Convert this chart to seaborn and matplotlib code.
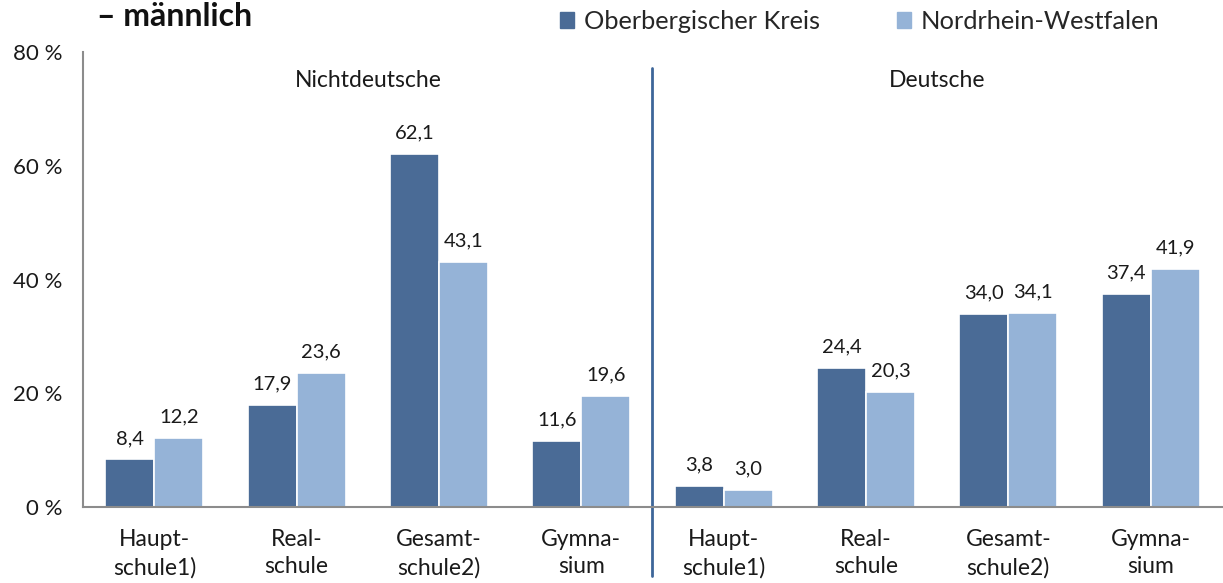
import matplotlib.pyplot as plt
import seaborn as sns
import pandas as pd
from matplotlib.patches import Patch

# --- data ---
groups = ["Nichtdeutsche"] * 4 + ["Deutsche"] * 4
schools = ["Haupt-\nschule1)", "Real-\nschule", "Gesamt-\nschule2)", "Gymna-\nsium"] * 2
obk = [8.4, 17.9, 62.1, 11.6, 3.8, 24.4, 34.0, 37.4]
nrw = [12.2, 23.6, 43.1, 19.6, 3.0, 20.3, 34.1, 41.9]
series = ["Oberbergischer Kreis", "Nordrhein-Westfalen"]
yticks = [0, 20, 40, 60, 80]

dark = "#4A6B96"
light = "#95B3D7"
spine_col = "#8C8C8C"
txt_col = "#1a1a1a"

keys = [f"{g}|{i}" for i, g in enumerate(groups)]
df = pd.DataFrame({
    "key": keys * 2,
    "serie": [series[0]] * len(obk) + [series[1]] * len(nrw),
    "wert": obk + nrw,
})

sns.set_theme(style="white")
plt.rcParams["font.family"] = ["Lato", "DejaVu Sans"]

fig = plt.figure(figsize=(12.23, 5.83), dpi=100)
ax = fig.add_axes([0.068, 0.130, 0.931, 0.781])

sns.barplot(data=df, x="key", y="wert", hue="serie", order=keys,
            hue_order=series, palette=[dark, light], saturation=1, width=0.69,
            edgecolor="white", linewidth=1.2, legend=False, ax=ax)

# Werte über den Balken
for cont in ax.containers:
    ax.bar_label(cont, labels=[f"{v:.1f}".replace(".", ",") for v in cont.datavalues],
                 padding=9, fontsize=14.5, color=txt_col)

ax.set_xlim(-0.5, len(keys) - 0.5)
ax.set_ylim(0, 80)
ax.set_yticks(yticks)
ax.set_yticklabels([f"{t} %" for t in yticks], fontsize=16, color=txt_col)
ax.set_xticks(range(len(keys)))
ax.set_xticklabels(schools, fontsize=16.5, color=txt_col, linespacing=1.35)
ax.set_xticks([i - 0.5 for i in range(len(keys) + 1)], minor=True)
ax.tick_params(axis="x", which="major", length=0, pad=16)
ax.tick_params(axis="x", which="minor", length=8, width=1.2, color=spine_col, direction="out")
ax.tick_params(axis="y", length=6, width=1.2, color=spine_col, direction="out", pad=9)
ax.set_xlabel("")
ax.set_ylabel("")

for s in ["top", "right"]:
    ax.spines[s].set_visible(False)
for s in ["left", "bottom"]:
    ax.spines[s].set_color(spine_col)
    ax.spines[s].set_linewidth(1.5)

# Trennlinie zwischen den Gruppen
ax.plot([3.5, 3.5], [-0.15, 0.965], color="#3D6699", linewidth=2,
        transform=ax.get_xaxis_transform(), clip_on=False)

# Gruppenbeschriftung
ax.text(1.5, 0.938, "Nichtdeutsche", transform=ax.get_xaxis_transform(),
        ha="center", va="center", fontsize=16.5, color=txt_col)
ax.text(5.5, 0.938, "Deutsche", transform=ax.get_xaxis_transform(),
        ha="center", va="center", fontsize=16.5, color=txt_col)

# Titelrest
fig.text(0.079, 0.955, "– männlich", fontsize=23, fontweight="bold",
         ha="left", va="baseline", color="#111111")

# Legende
handles = [Patch(color=dark, label=series[0]), Patch(color=light, label=series[1])]
fig.legend(handles=handles, loc="center left", bbox_to_anchor=(0.458, 0.963),
           ncol=2, frameon=False, fontsize=18.3, handlelength=0.55, handleheight=0.55,
           handletextpad=0.4, columnspacing=3.0, borderaxespad=0, borderpad=0)

fig.savefig("out.png", dpi=100)
